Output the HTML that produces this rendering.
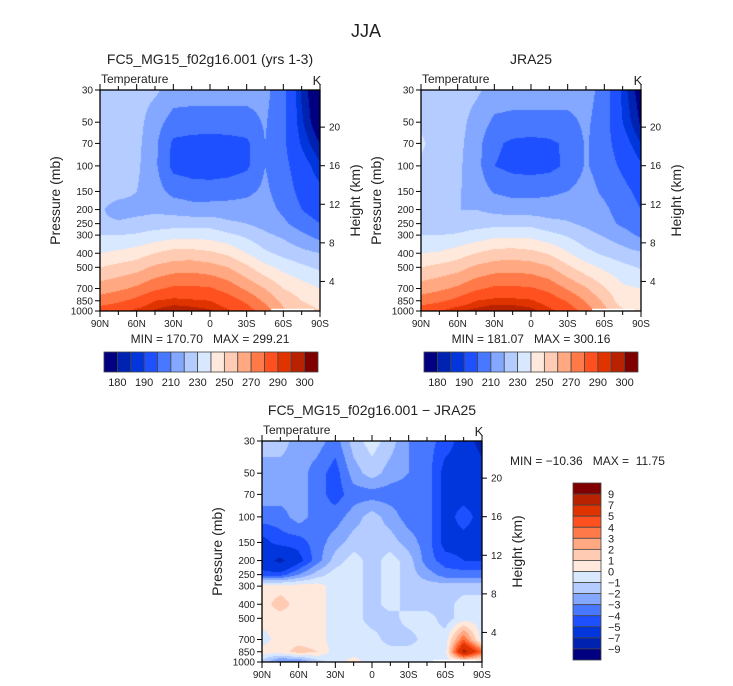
<!DOCTYPE html>
<html><head><meta charset="utf-8">
<style>
body{margin:0;background:#fff;}
#root{position:relative;width:733px;height:686px;overflow:hidden;font-family:"Liberation Sans",sans-serif;color:#222;}
svg{position:absolute;left:0;top:0;}
</style></head>
<body>
<div id="root">
<svg id="fig" width="733" height="686" viewBox="0 0 733 686"></svg>
</div>
<script>
// ---- data ----
const lats = [90,75,60,45,30,15,0,-15,-30,-45,-60,-75,-90];
const levels = [30,50,70,100,150,200,250,300,400,500,700,850,1000];
const modelTemp = [
 [225,225,224,222,215,214,214,214,214,213,203,184,172],
 [226,226,224,214,206,206,206,206,206,211,202,186,174],
 [226,226,223,212,198,196,195,196,198,210,202,189,180],
 [226,226,222,212,197,195,194,195,198,210,203,194,186],
 [226,225,220,214,207,205,205,206,208,212,205,197,192],
 [222,214,216,218,216,214,214,214,214,214,208,200,195],
 [222,222,224,225,226,226,226,222,220,216,212,205,200],
 [230,230,231,234,236,236,236,232,228,222,218,212,206],
 [240,242,245,250,254,254,252,248,240,232,227,223,220],
 [250,253,256,262,265,266,264,260,252,243,237,232,228],
 [265,268,272,278,282,282,281,276,268,260,250,245,240],
 [275,278,283,290,292,291,290,285,278,268,257,250,246],
 [285,288,292,296,299,298,296,291,285,275,262,255,250]
];
const obsTemp = [
 [227,226,224,222,216,215,215,215,215,214,206,188,176],
 [229,226,224,216,208,207,207,207,207,212,204,190,179],
 [231,227,223,214,202,198,197,198,202,211,204,194,185],
 [229,227,222,214,200,197,196,197,202,211,205,198,191],
 [228,226,221,216,209,207,207,208,210,214,208,203,197],
 [226,220,220,220,217,215,215,215,216,216,212,205,200],
 [224,224,225,226,227,227,227,223,221,218,214,208,204],
 [230,230,231,234,237,237,237,233,229,223,219,214,208],
 [240,241,245,250,254,255,253,249,241,233,228,224,221],
 [250,253,256,262,265,266,265,261,252,244,238,233,229],
 [265,268,272,278,282,282,281,277,269,261,251,242,240],
 [275,278,283,290,292,292,291,286,279,269,258,244,243],
 [286,290,295,297,300,299,297,292,286,276,263,252,250]
];
const diffTemp = [
 [-1.5,-1.5,-2.5,-2.5,-3.5,-1.5,-0.5,-1.5,-3,-3.5,-4.5,-5.5,-8],
 [-2.5,-2.5,-2.5,-3.5,-4.5,-2.5,-1.5,-2.5,-3,-3.5,-5.5,-5.5,-6],
 [-2.5,-2.5,-2.5,-3.5,-4.5,-3.5,-3.5,-3.5,-3.5,-3.5,-5.5,-5.5,-5.5],
 [-3.5,-3.5,-2.5,-3.5,-3.5,-2.5,-1.5,-2.5,-3.5,-3.5,-5.5,-4.5,-5.5],
 [-5.5,-4.5,-4.5,-3.5,-2.5,-1.5,-1.5,-1.5,-2.5,-3.5,-5.5,-5.5,-5.5],
 [-6,-7.5,-5.5,-3.5,-1.5,-0.5,-1.5,-0.5,-1.5,-3.5,-4.5,-5,-5],
 [-4.5,-4.5,-3,-1.5,-0.5,-0.5,-1.5,-0.5,-1.5,-2.5,-3.5,-3.5,-3.5],
 [0.5,0.5,0.5,0.5,-0.5,-0.5,-1.5,-0.5,-1.5,-1.5,-1.5,-1.5,-1.5],
 [0.5,1.5,0.5,0.5,-0.5,-0.5,-1.5,-0.5,-1.5,-1.5,-1.5,-0.5,-0.5],
 [0.5,0.5,0.5,0.5,-0.5,-0.5,-1.5,-1.5,-0.5,-0.5,-1.5,-0.5,-0.5],
 [-0.5,0.5,0.5,0.5,-0.5,-0.5,-0.5,-1.5,-1.5,-0.5,-0.5,4,-0.5],
 [0.5,0.5,1.5,1,-0.5,-0.5,-0.5,-0.5,-0.5,-0.5,-0.5,8,4],
 [-1.5,-3.5,-3.5,-1.5,-0.5,0.5,-0.5,-0.5,-0.5,-0.5,-0.5,-0.5,-0.5]
];
const tempBounds = [180,185,190,200,210,220,230,240,250,260,270,280,290,295,300];
const tempLabels = ["180","190","210","230","250","270","290","300"];
const diffBounds = [-9,-7,-5,-4,-3,-2,-1,0,1,2,3,4,5,7,9];
const diffLabels = ["−9","−7","−5","−4","−3","−2","−1","0","1","2","3","4","5","7","9"];
const latTicks = ["90N","60N","30N","0","30S","60S","90S"];
const kmTicks = [4,8,12,16,20];
const palette = ["#000080","#0022b0","#0036dc","#1e50ff","#4878ff","#84a8ff","#b4ccff","#d8e8ff","#ffe9dc","#ffcbb2","#ffa882","#ff7a48","#ff5020","#e03400","#b82200","#800000"];

// ---- helpers ----
const NS="http://www.w3.org/2000/svg";
const svg=document.getElementById('fig');
function el(tag,attrs,parent){const e=document.createElementNS(NS,tag);for(const k in attrs)e.setAttribute(k,attrs[k]);(parent||svg).appendChild(e);return e;}
function txt(x,y,s,size,anchor,parent){const t=el('text',{x:x,y:y,'font-size':size,'text-anchor':anchor||'middle','font-family':'Liberation Sans, sans-serif',fill:'#222'},parent);t.textContent=s;return t;}

function drawPanel(o){
  const g=el('g',{});
  
  
  const X0=o.x,Y0=o.y,W=o.w,H=o.h;
  const lnR=Math.log(1000/30);
  const xOfLat=l=>X0+(90-l)/180*W;
  const yOfP=p=>Y0+H-Math.log(1000/p)/lnR*H;
  const c=document.createElement('canvas');c.width=W;c.height=H;
  c.style.position='absolute';c.style.left=X0+'px';c.style.top=Y0+'px';
  
  
  document.getElementById('root').insertBefore(c,svg);
  const ctx=c.getContext('2d');const img=ctx.createImageData(W,H);
  const rows=levels.map(p=>yOfP(p)-Y0), cols=lats.map(l=>xOfLat(l)-X0);
  const hex=palette.map(h=>[parseInt(h.substr(1,2),16),parseInt(h.substr(3,2),16),parseInt(h.substr(5,2),16)]);
  for(let py=0;py<H;py++){
    let r=0;while(r<rows.length-2&&py+0.5>rows[r+1])r++;
    const fy=Math.min(1,Math.max(0,(py+0.5-rows[r])/(rows[r+1]-rows[r])));
    for(let px=0;px<W;px++){
      let cI=0;while(cI<cols.length-2&&px+0.5>cols[cI+1])cI++;
      const fx=Math.min(1,Math.max(0,(px+0.5-cols[cI])/(cols[cI+1]-cols[cI])));
      const d=o.data;
      const v=(d[r][cI]*(1-fx)+d[r][cI+1]*fx)*(1-fy)+(d[r+1][cI]*(1-fx)+d[r+1][cI+1]*fx)*fy;
      let i=0;while(i<o.bounds.length&&v>=o.bounds[i])i++;
      const col=hex[i];const k=(py*W+px)*4;
      img.data[k]=col[0];img.data[k+1]=col[1];img.data[k+2]=col[2];img.data[k+3]=255;
    }
  }
  ctx.putImageData(img,0,0);
  const m=el('rect',{x:xOfLat(-50),y:yOfP(965),width:xOfLat(-85)-xOfLat(-50),height:Y0+H-yOfP(965),fill:'#fff'},g);
  
  const f=el('rect',{x:X0,y:Y0,width:W,height:H,fill:'none',stroke:'#000','stroke-width':1.3},g);
  
  for(let l=90;l>=-90;l-=15){
    const x=xOfLat(l),maj=(l%30===0);
    el('line',{x1:x,y1:Y0,x2:x,y2:Y0-(maj?6:4),stroke:'#000'},g);
    el('line',{x1:x,y1:Y0+H,x2:x,y2:Y0+H+(maj?6:4),stroke:'#000'},g);
  }
  latTicks.forEach((s,i)=>{const t=txt(xOfLat(90-30*i),Y0+H+16,s,10,'middle',g);
    });
  levels.forEach(p=>{const y=yOfP(p);el('line',{x1:X0,y1:y,x2:X0-5,y2:y,stroke:'#000'},g);
    const t=txt(X0-7,y+3.5,String(p),10,'end',g);});
  kmTicks.forEach(z=>{const y=Y0+H+9-z*9.6*(H/220);el('line',{x1:X0+W,y1:y,x2:X0+W+5,y2:y,stroke:'#000'},g);
    const t=txt(X0+W+9,y+3.5,String(z),10,'start',g);});
  let t=txt(X0+1,Y0-7,'Temperature',12,'start',g);
  t=txt(X0+W-3,Y0-5,'K',13,'middle',g);
  t=txt(X0+W/2,Y0-26,o.title,14,'middle',g);
  t=txt(0,0,'Pressure (mb)',14,'middle',g);t.setAttribute('transform','translate('+(X0-40)+','+(Y0+H/2)+') rotate(-90)');
  
  t=txt(0,0,'Height (km)',14,'middle',g);t.setAttribute('transform','translate('+(X0+W+40)+','+(Y0+H/2)+') rotate(-90)');
  
}

drawPanel({name:'model-panel',x:100,y:90,w:220,h:221,data:modelTemp,bounds:tempBounds,title:'FC5_MG15_f02g16.001 (yrs 1-3)'});
drawPanel({name:'obs-panel',x:421,y:90,w:220,h:221,data:obsTemp,bounds:tempBounds,title:'JRA25'});
drawPanel({name:'diff-panel',x:262,y:441,w:220,h:221,data:diffTemp,bounds:diffBounds,title:'FC5_MG15_f02g16.001 − JRA25'});

let t=txt(366,37,'JJA',18);
t=txt(210,343,'MIN = 170.70   MAX = 299.21',12);
t.style.whiteSpace='pre';
t=txt(531,343,'MIN = 181.07   MAX = 300.16',12);
t.style.whiteSpace='pre';
t=txt(510,465,'MIN = −10.36   MAX =  11.75',12,'start');
t.style.whiteSpace='pre';

function hbar(x0,name){
  const g=el('g',{});
  const w=214/16;
  palette.forEach((c,i)=>{const r=el('rect',{x:x0+i*w,y:352,width:w,height:20,fill:c,stroke:'#444','stroke-width':0.8},g);
    });
  tempLabels.forEach((s,i)=>{const k=i<7?1+2*i:15;const tt=txt(x0+k*w,386,s,11,'middle',g);
    });
}
hbar(104,'model-colorbar');hbar(424,'obs-colorbar');
(function(){
  const g=el('g',{});
  const h=177/16;
  for(let i=0;i<16;i++){const r=el('rect',{x:573,y:483+i*h,width:28,height:h,fill:palette[15-i],stroke:'#444','stroke-width':0.8},g);
    }
  for(let j=0;j<15;j++){const tt=txt(608,483+(j+1)*h+4,diffLabels[14-j],11,'start',g);
    }
})();
</script>
</body></html>
